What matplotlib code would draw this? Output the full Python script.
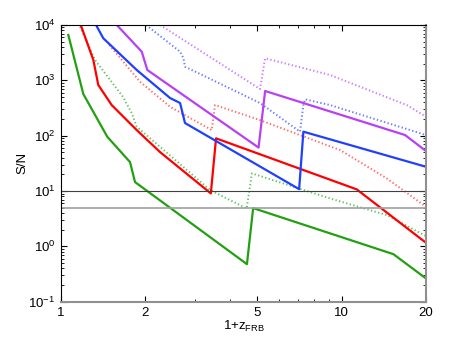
import numpy as np
import matplotlib
matplotlib.use('Agg')
import matplotlib.pyplot as plt
from matplotlib.ticker import FixedLocator, FixedFormatter, LogLocator, NullFormatter

plt.rcParams['font.family'] = ['Liberation Sans', 'DejaVu Sans']
plt.rcParams['mathtext.fontset'] = 'custom'
plt.rcParams['mathtext.rm'] = 'Liberation Sans'
plt.rcParams['mathtext.it'] = 'Liberation Sans'

# solid curves (x = 1+z, y = S/N)
green_x = [1.062, 1.201, 1.462, 1.762, 1.836, 4.60, 4.84, 15.3, 20.0]
green_y = [6590, 565, 95.5, 33.3, 14.5, 0.477, 4.91, 0.723, 0.263]

red_x = [1.176, 1.304, 1.358, 1.516, 1.862, 2.254, 3.42, 3.57, 11.33, 20.0]
red_y = [10000, 2330, 823, 357, 126, 50.5, 9.05, 89.4, 10.7, 1.16]

blue_x = [1.333, 1.415, 1.862, 2.447, 2.657, 2.767, 7.06, 7.31, 20.0]
blue_y = [10000, 5750, 1535, 479, 389, 169, 10.8, 118, 27.4]

purple_x = [1.58, 1.94, 2.031, 5.06, 5.34, 16.84, 20.0]
purple_y = [10000, 3290, 1535, 60.9, 641, 102.6, 52.7]

# dotted curves
green_dot_x = [1.169, 1.322, 1.664, 1.787, 1.862, 3.40, 4.59, 4.79, 9.10, 14.5, 20.0]
green_dot_y = [9320, 2330, 499, 256, 145, 10.4, 4.84, 20.8, 7.35, 3.67, 1.53]

red_dot_x = [1.486, 1.912, 2.447, 3.445, 3.54, 5.12, 9.88, 14.5, 20.0]
red_dot_y = [4350, 943, 333, 126, 357, 191, 54.9, 16.9, 5.18]

blue_dot_x = [2.01, 2.657, 2.73, 2.767, 5.12, 7.11, 7.31, 7.41, 9.10, 20.0]
blue_dot_y = [10000, 3290, 2530, 1762, 389, 118, 357, 453, 357, 102.6]

purple_dot_x = [2.254, 5.12, 5.34, 9.10, 17.08, 20.0]
purple_dot_y = [10000, 696, 2500, 1247, 357, 220]

thresholds = [10, 5]

fig = plt.figure(figsize=(4.71, 3.40), dpi=100)
ax = fig.add_axes([0.1295, 0.1126, 0.775, 0.814])

dots = (0, (0.7, 1.2))
ax.plot(green_dot_x, green_dot_y, color='#66c266', lw=1.4, linestyle=dots)
ax.plot(red_dot_x, red_dot_y, color='#ff6a6a', lw=1.4, linestyle=dots)
ax.plot(blue_dot_x, blue_dot_y, color='#6a7cff', lw=1.4, linestyle=dots)
ax.plot(purple_dot_x, purple_dot_y, color='#d07cff', lw=1.4, linestyle=dots)

ax.plot(green_x, green_y, color='#22a012', lw=1.6)
ax.plot(red_x, red_y, color='#ff0000', lw=1.6)
ax.plot(blue_x, blue_y, color='#2040ff', lw=1.6)
ax.plot(purple_x, purple_y, color='#b840f4', lw=1.6)

ax.axhline(thresholds[0], color='#404040', lw=0.8)
ax.axhline(thresholds[1], color='#a0a0a0', lw=1.2)

ax.set_xscale('log')
ax.set_yscale('log')
ax.set_xlim(1, 20)
ax.set_ylim(0.1, 1e4)

ax.xaxis.set_major_locator(FixedLocator([1, 2, 5, 10, 20]))
ax.xaxis.set_major_formatter(FixedFormatter(['1', '2', '5', '10', '20']))
ax.xaxis.set_minor_locator(FixedLocator([3, 4, 6, 7, 8, 9]))
ax.xaxis.set_minor_formatter(NullFormatter())
ax.yaxis.set_minor_locator(LogLocator(base=10, subs=np.arange(2, 10)))
ax.yaxis.set_minor_formatter(NullFormatter())

ax.tick_params(which='both', direction='in', top=True, right=True, labelsize=9.5, pad=4)
ax.tick_params(which='major', length=4, width=0.8)
ax.tick_params(which='minor', length=2.5, width=0.6)

for side in ['left', 'top']:
    ax.spines[side].set_color('black')
    ax.spines[side].set_linewidth(0.8)
for side in ['right', 'bottom']:
    ax.spines[side].set_color('#909090')
    ax.spines[side].set_linewidth(1.5)

ax.set_xlabel('1+z$_{\\mathregular{FRB}}$', fontsize=9.5, labelpad=0)
ax.set_ylabel('S/N', fontsize=9.5, labelpad=0)

fig.savefig('out.png', dpi=100)
